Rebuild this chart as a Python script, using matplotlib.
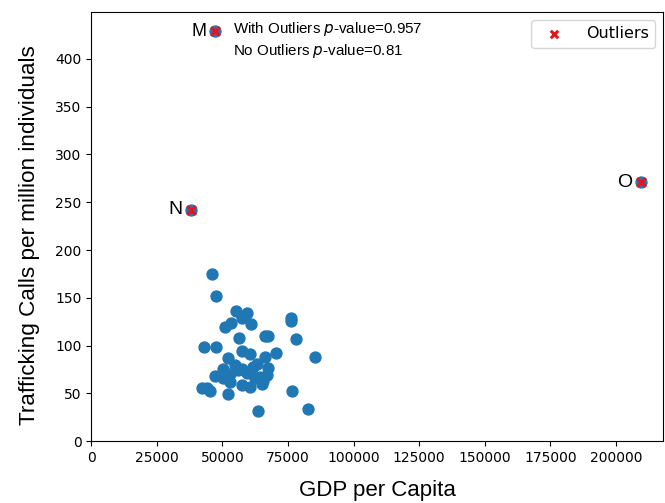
import matplotlib
matplotlib.use("Agg")
import matplotlib.pyplot as plt

gdp = [46200, 47600, 55200, 59300, 57400, 53200, 51000, 60800, 76100, 76200,
       66300, 67500, 56300, 78100, 43000, 47500, 57400, 60600, 70400, 52100,
       66300, 85300, 63100, 54900, 50400, 67500, 57400, 59300, 47200, 53000,
       64400, 66900, 50400, 53000, 62500, 65600, 42200, 45300, 57400, 60600,
       52100, 76700, 63400, 82800, 44200, 56000, 61700, 65100]
calls = [174.8, 152, 136, 134, 129, 124, 119, 122.5, 129, 126,
         110, 110, 107.5, 107, 98, 98, 94.5, 91, 92, 86.6,
         87.6, 87.6, 81, 79.6, 75, 77, 76, 71, 68, 70,
         67, 69, 65.6, 62, 65.6, 63, 56, 52.7, 58.6, 57,
         49, 52.7, 31.7, 34, 55.5, 74, 77.5, 60]

out_labels = ["M", "N", "O"]
out_gdp = [47200, 38100, 209500]
out_calls = [429, 242, 271]

p_with = "0.957"
p_without = "0.81"

fig = plt.figure(figsize=(6.65, 5.03), dpi=100)
ax = fig.add_axes([0.137, 0.123, 0.860, 0.853])

ax.scatter(gdp + out_gdp, calls + out_calls, s=62, color="#1f77b4", zorder=2)
ax.scatter(out_gdp, out_calls, marker="x", s=40, color="#e8141c", linewidths=2.2,
           zorder=3, label="Outliers")

label_sizes = [13, 14, 14]
for lab, x, y, fs in zip(out_labels, out_gdp, out_calls, label_sizes):
    ax.annotate(lab, (x, y), xytext=(-6, 0), textcoords="offset points",
                ha="right", va="center", fontsize=fs, family="Liberation Sans")

ax.text(54100, 431, "With Outliers $p$-value=" + p_with, fontsize=10.9,
        family="Liberation Sans", va="center")
ax.text(54100, 408, "No Outliers $p$-value=" + p_without, fontsize=10.9,
        family="Liberation Sans", va="center")

ax.set_xlim(0, 217900)
ax.set_ylim(0, 449)
ax.set_xticks([0, 25000, 50000, 75000, 100000, 125000, 150000, 175000, 200000])
ax.set_yticks([0, 50, 100, 150, 200, 250, 300, 350, 400])
ax.tick_params(labelsize=10)

ax.set_xlabel("GDP per Capita", fontsize=16, family="Liberation Sans", labelpad=11)
ax.set_ylabel("Trafficking Calls per million individuals", fontsize=16.2,
              family="Liberation Sans")
ax.yaxis.set_label_coords(-0.107, 0.48)
ax.yaxis.label.set_verticalalignment("center")

ax.legend(loc="upper right", fontsize=11.5, markerscale=0.85, handletextpad=1.0)

fig.savefig("out.png", dpi=100)
